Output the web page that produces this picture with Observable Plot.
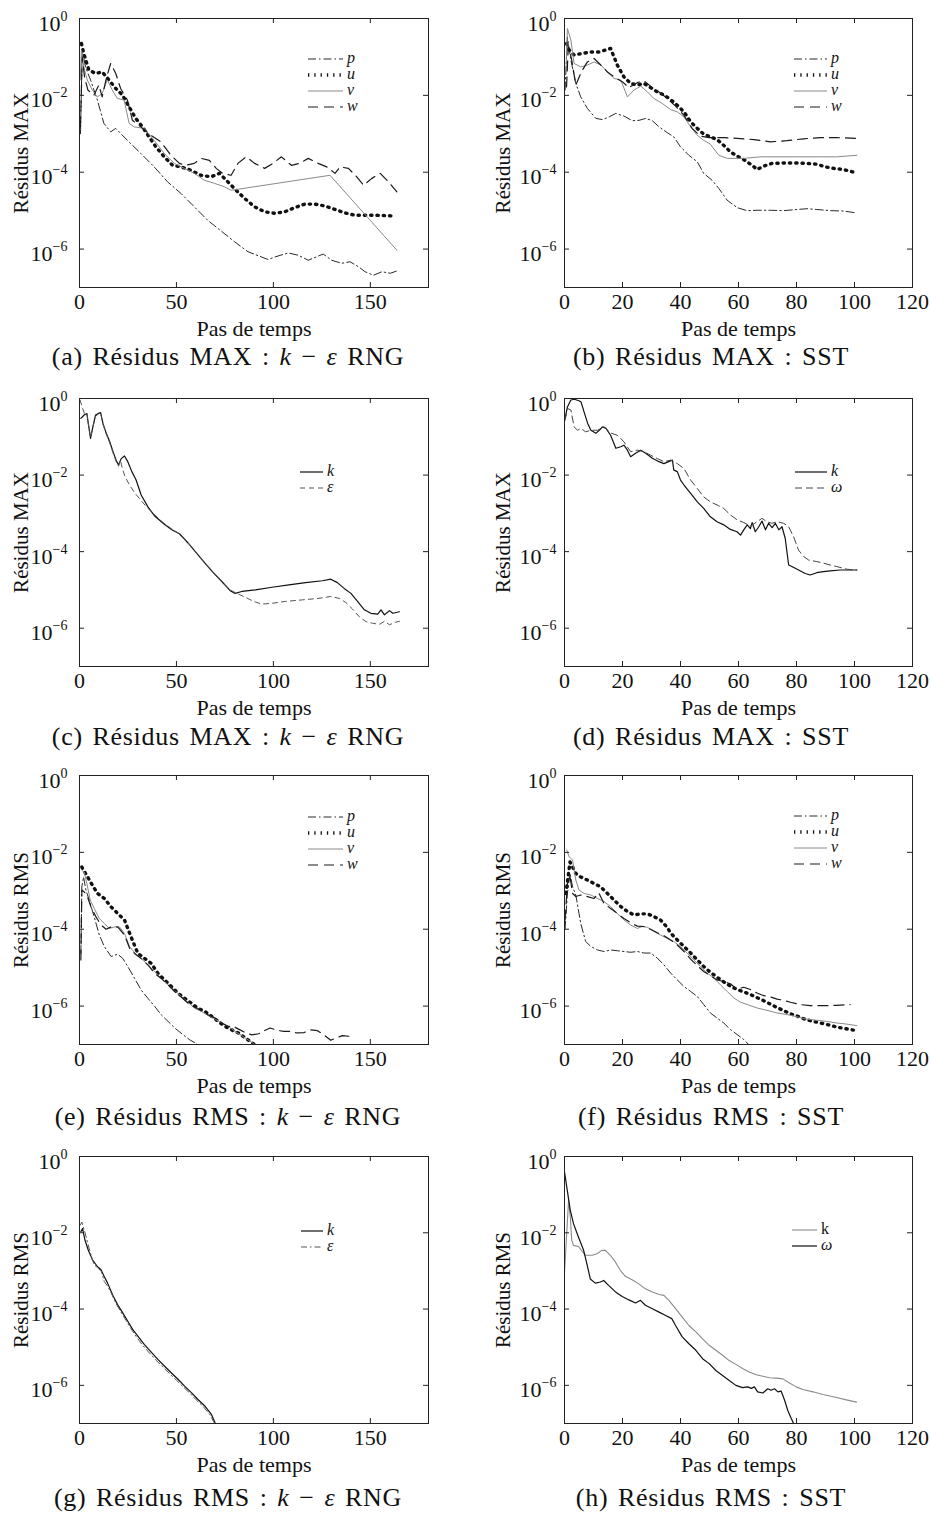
<!DOCTYPE html>
<html>
<head>
<meta charset="utf-8">
<script src="https://cdn.jsdelivr.net/npm/d3@7"></script>
<script src="https://cdn.jsdelivr.net/npm/@observablehq/plot@0.6"></script>
<style>
  body { margin: 0; background: #fff; }
  #fig { position: relative; width: 931px; height: 1516px; font-family: "Liberation Serif", "DejaVu Serif", serif; color: #111; }
  .panel { position: absolute; }
  .cap { position: absolute; width: 440px; text-align: center; font-size: 26px; line-height: 26px; letter-spacing: 0.7px; word-spacing: 2.5px; white-space: nowrap; }
</style>
</head>
<body>
<div id="fig"></div>
<script>
// Residual histories: each point is [time step, log10(residual)].

// (a) MAX residuals, k-epsilon RNG
const maxRngP = [[0.5,-3.0],[1.4,-0.82],[3.1,-1.26],[5.7,-1.6],[9.2,-2.12],[12.6,-2.73],[16.1,-2.95],[18.7,-2.86],[21.2,-2.99],[24.7,-3.17],[31.6,-3.51],[38.5,-3.86],[45.4,-4.25],[52.3,-4.55],[59.2,-4.9],[66.1,-5.25],[71.3,-5.46],[80,-5.81],[86.9,-6.07],[97.2,-6.27],[102.4,-6.18],[107.6,-6.1],[112.8,-6.16],[118,-6.29],[122.3,-6.2],[125.7,-6.13],[130,-6.29],[135.2,-6.37],[139.5,-6.33],[143.9,-6.46],[147.3,-6.59],[151.6,-6.68],[156,-6.59],[160.3,-6.63],[163.7,-6.57]];
const maxRngU = [[1,-0.65],[2.2,-0.91],[4.8,-1.34],[8.3,-1.43],[11.7,-1.39],[15.2,-1.6],[18.7,-1.82],[22.1,-1.99],[25.6,-2.3],[29,-2.6],[32.5,-2.82],[35.9,-3.08],[39.4,-3.34],[43.7,-3.6],[48,-3.82],[52.3,-3.86],[57.5,-3.95],[62.7,-4.08],[67.9,-4.12],[72.2,-4.03],[76.5,-4.25],[80.8,-4.47],[85.1,-4.68],[90.3,-4.9],[95.5,-5.03],[100.7,-5.07],[105.9,-5.03],[111.1,-4.92],[116.2,-4.83],[121.4,-4.83],[126.6,-4.88],[131.8,-4.97],[137,-5.06],[142.1,-5.12],[147.3,-5.12],[152.5,-5.12],[157.7,-5.13],[162.5,-5.14]];
const maxRngV = [[0.4,-1.6],[1,-0.82],[2.2,-1.26],[4,-1.6],[6.6,-1.86],[9.2,-2.04],[11.7,-1.95],[14.3,-1.6],[16.9,-1.86],[19.5,-2.08],[23,-2.12],[25.6,-2.73],[28.2,-2.82],[33.3,-2.86],[38.5,-3.17],[43.7,-3.51],[48.9,-3.77],[54.1,-3.9],[59.2,-4.03],[64.4,-4.21],[69.6,-4.29],[74.8,-4.38],[78.2,-4.47],[129.2,-4.08],[163.7,-6.03]];
const maxRngW = [[0.5,-2.82],[1.4,-1.0],[2.6,-1.52],[4.3,-1.86],[7.4,-2.0],[10,-1.73],[11.7,-2.04],[14,-1.52],[16.1,-1.17],[18.7,-1.43],[21.2,-1.82],[24.7,-2.12],[27.3,-2.65],[31.6,-2.82],[36.8,-3.04],[42,-3.21],[47.2,-3.56],[51.5,-3.77],[54.9,-3.82],[59.2,-3.77],[62.7,-3.64],[67,-3.69],[70.5,-3.9],[73.9,-4.03],[78.2,-4.08],[81.7,-3.77],[86,-3.6],[90.3,-3.77],[95.5,-3.9],[99.8,-3.77],[104.1,-3.6],[109.3,-3.82],[113.6,-3.77],[118,-3.64],[123.1,-3.77],[127.5,-3.86],[131.8,-4.03],[134.4,-3.86],[138.7,-3.9],[143,-4.12],[146.5,-4.34],[150.8,-4.16],[155.1,-4.03],[159.4,-4.25],[163.7,-4.51]];

// (b) MAX residuals, SST
const maxSstP = [[0.2,-1.86],[1,-0.48],[2.2,-1.08],[3.9,-1.69],[5.6,-2.04],[7.9,-2.34],[10.8,-2.6],[13.1,-2.63],[15.4,-2.56],[17.7,-2.47],[20.5,-2.54],[23.4,-2.66],[25.7,-2.65],[28,-2.6],[30.3,-2.66],[32.6,-2.82],[35.4,-2.97],[37.7,-3.08],[40,-3.34],[42.9,-3.56],[45.8,-3.73],[48,-4.03],[50.9,-4.21],[53.2,-4.42],[56.1,-4.73],[59.5,-4.92],[62.9,-5.0],[66.4,-4.99],[71,-4.99],[75.6,-5.0],[80.2,-4.97],[83.6,-4.95],[87,-4.97],[91.6,-5.0],[96.2,-5.01],[100.8,-5.06]];
const maxSstU = [[0.7,-0.65],[1.6,-0.82],[3.3,-0.95],[6.2,-0.91],[9.1,-0.87],[11.9,-0.87],[15.9,-0.78],[18.2,-1.21],[20.5,-1.52],[22.8,-1.69],[25.1,-1.73],[27.4,-1.69],[29.7,-1.8],[32,-1.91],[34.3,-1.99],[36.6,-2.11],[38.9,-2.26],[41.2,-2.43],[43.5,-2.69],[45.8,-2.86],[48,-3.01],[50.3,-3.08],[52.6,-3.15],[54.9,-3.3],[57.2,-3.47],[59.5,-3.58],[61.8,-3.67],[64.7,-3.82],[66.4,-3.93],[68.7,-3.84],[71.6,-3.77],[75.6,-3.76],[79.6,-3.76],[83.6,-3.77],[87,-3.79],[89.9,-3.86],[92.8,-3.9],[96.2,-3.93],[100.8,-4.02]];
const maxSstV = [[0.5,-1.43],[1,-0.26],[2.2,-0.56],[3.3,-1.17],[5.6,-1.26],[7.9,-1.21],[10.2,-1.13],[12.5,-1.21],[14.8,-1.39],[17.1,-1.56],[19.4,-1.6],[21.7,-2.04],[24,-1.86],[26.3,-1.76],[28.6,-1.91],[30.8,-2.08],[33.7,-2.21],[36.6,-2.37],[38.9,-2.43],[41.2,-2.56],[43.5,-2.82],[45.8,-3.04],[48,-3.17],[50.3,-3.27],[53.2,-3.56],[56.1,-3.64],[61.8,-3.64],[67.5,-3.6],[73.3,-3.6],[80.2,-3.6],[87,-3.6],[93.9,-3.6],[100.8,-3.56]];
const maxSstW = [[0.7,-1.78],[1.3,-0.74],[2.4,-1.04],[3.9,-1.73],[5.8,-1.39],[7.9,-1.13],[10.2,-1.04],[12.5,-1.21],[14.8,-1.39],[17.1,-1.52],[20,-1.65],[22.2,-1.8],[25.1,-1.67],[27.4,-1.62],[30.3,-1.8],[32.6,-1.91],[35.4,-2.08],[38.3,-2.28],[41.2,-2.52],[44,-2.86],[46.9,-3.06],[49.8,-3.1],[54.9,-3.1],[59.5,-3.12],[65.3,-3.15],[71,-3.21],[76.7,-3.18],[82.5,-3.13],[88.2,-3.1],[93.9,-3.1],[100.8,-3.12]];

// (c) MAX residuals of turbulence quantities, k-epsilon RNG
const maxRngK = [[0.7,-0.52],[2.4,-0.43],[3.8,-0.39],[4.8,-0.74],[5.7,-1.04],[6.9,-0.74],[8.3,-0.43],[9.7,-0.39],[10.9,-0.37],[12.1,-0.65],[13.8,-0.91],[15.6,-1.13],[17.3,-1.39],[18.9,-1.61],[20.1,-1.74],[21.5,-1.57],[23.2,-1.5],[24.9,-1.65],[27,-1.91],[29.2,-2.13],[31.8,-2.52],[35.3,-2.83],[38.8,-3.07],[43.1,-3.26],[47.4,-3.42],[51.7,-3.54],[56.1,-3.78],[60.4,-4.04],[64.7,-4.3],[69,-4.55],[73.4,-4.78],[77.7,-5.02],[80.3,-5.09],[83.7,-5.04],[90.7,-5.0],[99.3,-4.93],[108,-4.87],[116.6,-4.81],[125.3,-4.76],[129.6,-4.72],[133,-4.81],[136.5,-4.96],[140,-5.09],[143.4,-5.3],[146.9,-5.52],[150.3,-5.61],[153.8,-5.63],[155.5,-5.52],[157.3,-5.65],[159.9,-5.54],[161.6,-5.61],[165,-5.57]];
const maxRngEps = [[0.3,-0.04],[1.6,-0.26],[2.8,-0.43],[3.8,-0.39],[4.8,-0.74],[5.7,-1.02],[6.9,-0.74],[8.3,-0.46],[9.7,-0.41],[10.9,-0.39],[12.1,-0.67],[13.8,-0.93],[15.6,-1.16],[17.3,-1.42],[18.9,-1.65],[20.1,-1.77],[21.1,-1.61],[22.1,-1.83],[23.5,-2.04],[25.8,-2.26],[28.4,-2.46],[31.8,-2.67],[35.3,-2.87],[38.8,-3.04],[43.1,-3.24],[47.4,-3.4],[51.7,-3.54],[56.1,-3.78],[60.4,-4.04],[64.7,-4.3],[69,-4.55],[73.4,-4.78],[77.7,-5.0],[81.1,-5.09],[85.5,-5.19],[89.8,-5.3],[94.1,-5.37],[99.3,-5.35],[106.2,-5.3],[114.9,-5.26],[123.5,-5.22],[129.6,-5.17],[133.9,-5.22],[137.4,-5.33],[140.8,-5.5],[144.3,-5.7],[147.8,-5.83],[151.2,-5.87],[154.7,-5.9],[157.3,-5.82],[159.9,-5.91],[162.5,-5.85],[165,-5.82]];

// (d) MAX residuals of turbulence quantities, SST
const maxSstK = [[0.2,-0.52],[1,-0.22],[2.2,-0.04],[3.4,-0.02],[5,-0.06],[5.7,-0.09],[6.9,-0.39],[8,-0.65],[9.1,-0.83],[10.8,-0.91],[12,-0.83],[13.1,-0.74],[14.3,-0.78],[15.9,-0.96],[17.7,-1.3],[19.4,-1.26],[20.5,-1.22],[21.7,-1.35],[22.8,-1.52],[24.5,-1.43],[26.3,-1.35],[28,-1.43],[30.3,-1.56],[32.6,-1.65],[34.3,-1.7],[35.9,-1.65],[37.2,-1.61],[37.7,-1.87],[38.9,-1.91],[40,-2.13],[41.2,-2.26],[43.5,-2.48],[45.8,-2.7],[48,-2.87],[50.3,-3.09],[52.6,-3.22],[54.9,-3.3],[57.2,-3.42],[59.5,-3.48],[60.7,-3.57],[61.8,-3.43],[63,-3.3],[64.1,-3.4],[64.7,-3.24],[65.8,-3.48],[67,-3.35],[68.1,-3.2],[69.3,-3.43],[70.4,-3.26],[71.6,-3.37],[72.7,-3.26],[73.9,-3.43],[75,-3.35],[76.1,-3.65],[77.3,-4.35],[78.4,-4.39],[80.7,-4.48],[83,-4.57],[84.7,-4.61],[87,-4.55],[89.3,-4.52],[91.6,-4.5],[95.1,-4.48],[98.5,-4.48],[100.8,-4.48]];
const maxSstOmega = [[0.2,-0.57],[1,-0.26],[2.2,-0.3],[3.3,-0.74],[4.5,-0.83],[5.6,-0.78],[7.3,-0.87],[9.1,-0.83],[11.4,-0.83],[13.6,-0.74],[15.9,-0.9],[18.2,-0.96],[20.5,-1.13],[22.8,-1.39],[25.1,-1.35],[27.4,-1.39],[29.7,-1.48],[32,-1.57],[34.3,-1.65],[36.6,-1.61],[38.9,-1.7],[41.2,-1.83],[43.5,-2.13],[45.8,-2.35],[48,-2.57],[50.3,-2.7],[52.6,-2.78],[54.9,-2.87],[57.2,-3.04],[59.5,-3.17],[61.8,-3.24],[64.1,-3.33],[66.4,-3.22],[68.1,-3.13],[69.8,-3.22],[71.6,-3.26],[73.3,-3.22],[75.6,-3.26],[77.3,-3.35],[79,-3.61],[80.7,-3.96],[82.5,-4.13],[84.2,-4.22],[87,-4.26],[89.3,-4.3],[91.6,-4.35],[93.9,-4.39],[97.4,-4.46],[100.8,-4.48]];

// (e) RMS residuals, k-epsilon RNG
const rmsRngP = [[0.7,-4.63],[1.2,-2.9],[2.1,-2.64],[3.3,-2.98],[5,-3.24],[7.6,-3.68],[10.2,-4.15],[12.8,-4.45],[16.3,-4.71],[19.7,-4.65],[22.3,-4.76],[24.9,-4.97],[28.4,-5.28],[31.8,-5.58],[35.3,-5.8],[38.8,-6.01],[42.2,-6.23],[45.7,-6.4],[49.1,-6.57],[53.5,-6.75],[56.9,-6.88],[60.4,-6.98],[62,-7.05]];
const rmsRngU = [[1.2,-2.38],[1.6,-2.42],[4.2,-2.64],[6.7,-2.86],[9.3,-3.07],[12.8,-3.2],[16.3,-3.42],[19.7,-3.59],[23.2,-3.76],[26.6,-4.2],[30.1,-4.63],[33.6,-4.76],[37,-4.89],[40.5,-5.15],[43.9,-5.32],[47.4,-5.49],[50.9,-5.67],[54.3,-5.8],[57.8,-5.93],[61.2,-6.06],[64.7,-6.14],[68.2,-6.27],[71.6,-6.4],[75.1,-6.53],[78.5,-6.62],[82,-6.7],[85.5,-6.83],[88.9,-6.95],[90.7,-7.02]];
const rmsRngV = [[1.2,-2.47],[2.4,-2.51],[3.8,-2.81],[5.5,-3.24],[7.6,-3.46],[10.2,-3.72],[12.8,-3.85],[15.4,-3.98],[18,-3.94],[20.6,-3.94],[23.2,-4.11],[25.8,-4.45],[28.4,-4.61],[31.8,-4.76],[35.3,-4.93],[38.8,-5.1],[42.2,-5.28],[45.7,-5.45],[49.1,-5.6],[52.6,-5.75],[56.1,-5.91],[59.5,-6.06],[63,-6.14],[66.4,-6.25],[69.9,-6.34],[73.4,-6.44],[76.8,-6.53],[80.3,-6.66],[83.7,-6.77],[87.2,-6.89],[89.8,-6.98],[91,-7.03]];
const rmsRngW = [[0.7,-4.8],[1.2,-2.98],[2.4,-3.03],[3.8,-3.11],[5.9,-3.42],[8.5,-3.68],[11.1,-3.89],[13.7,-4.0],[16.3,-3.94],[19.7,-3.94],[23.2,-4.15],[25.8,-4.49],[28.4,-4.63],[31.8,-4.76],[35.3,-4.93],[38.8,-5.15],[42.2,-5.28],[45.7,-5.45],[49.1,-5.62],[52.6,-5.77],[56.1,-5.93],[59.5,-6.03],[63,-6.12],[66.4,-6.23],[69.9,-6.31],[73.4,-6.44],[76.8,-6.53],[79.4,-6.53],[82,-6.6],[85.5,-6.69],[88.9,-6.75],[92.4,-6.72],[95.8,-6.63],[98.3,-6.57],[101.9,-6.63],[105.4,-6.66],[108.8,-6.66],[112.3,-6.7],[115.7,-6.69],[119.2,-6.62],[122.7,-6.64],[126.1,-6.75],[129.6,-6.89],[132.2,-6.83],[135.6,-6.77],[140,-6.79]];

// (f) RMS residuals, SST
const rmsSstP = [[0.2,-4.0],[1,-3.07],[1.9,-2.55],[2.8,-2.9],[3.9,-3.11],[5,-3.59],[5.6,-3.85],[7.3,-4.32],[9.1,-4.45],[11.4,-4.54],[13.6,-4.58],[15.9,-4.54],[18.2,-4.56],[20.5,-4.58],[22.8,-4.6],[25.1,-4.58],[27.4,-4.62],[29.7,-4.62],[32,-4.75],[34.3,-4.93],[36.6,-5.14],[38.9,-5.32],[41.2,-5.49],[43.5,-5.62],[45.8,-5.75],[48,-5.96],[50.3,-6.18],[52.6,-6.31],[54.9,-6.44],[57.2,-6.61],[59.5,-6.74],[61.8,-6.87],[63.5,-7.0],[64.5,-7.08]];
const rmsSstU = [[0.5,-3.07],[1.9,-2.25],[2.8,-2.38],[3.9,-2.55],[5.6,-2.64],[7.9,-2.72],[10.2,-2.81],[12.5,-2.9],[14.8,-3.07],[17.1,-3.24],[19.4,-3.41],[21.7,-3.54],[24,-3.63],[26.3,-3.6],[28.6,-3.6],[30.8,-3.67],[33.1,-3.76],[35.4,-3.95],[36.6,-4.1],[38.9,-4.28],[41.2,-4.45],[43.5,-4.62],[45.8,-4.8],[48,-4.97],[50.3,-5.12],[52.6,-5.25],[54.9,-5.37],[57.2,-5.48],[59.5,-5.57],[61.8,-5.63],[64.1,-5.7],[66.4,-5.78],[68.7,-5.86],[71,-5.95],[73.3,-6.04],[75.6,-6.12],[77.9,-6.2],[80.2,-6.26],[82.5,-6.33],[84.8,-6.38],[87.1,-6.42],[89.4,-6.46],[91.7,-6.5],[94,-6.55],[96.3,-6.58],[98.6,-6.61],[100.8,-6.64]];
const rmsSstV = [[0.8,-1.94],[1.6,-2.12],[2.8,-2.2],[3.9,-2.72],[5,-2.98],[6.8,-3.07],[9.1,-3.11],[11.4,-3.2],[13.6,-3.28],[15.9,-3.41],[18.2,-3.59],[20.5,-3.76],[22.8,-3.89],[25.1,-3.98],[26.8,-3.93],[28.6,-3.95],[30.8,-4.06],[33.1,-4.15],[35.4,-4.24],[37.7,-4.32],[40,-4.45],[42.3,-4.62],[44.6,-4.8],[46.9,-4.97],[49.2,-5.14],[51.5,-5.27],[53.8,-5.45],[56.1,-5.62],[58.4,-5.79],[60.7,-5.9],[63,-5.96],[66.4,-6.05],[69.8,-6.11],[73.3,-6.18],[76.7,-6.22],[80.2,-6.28],[83.6,-6.34],[87,-6.37],[90.5,-6.4],[93.9,-6.44],[97.4,-6.47],[100.8,-6.51]];
const rmsSstW = [[0.2,-3.76],[1,-2.81],[1.8,-2.59],[2.8,-3.07],[3.9,-3.15],[5.6,-3.11],[7.9,-3.15],[10.2,-3.2],[11.8,-3.05],[13.6,-3.33],[15.9,-3.46],[18.2,-3.59],[20.5,-3.72],[22.8,-3.83],[25.1,-3.92],[27.4,-3.93],[29.7,-4.0],[32,-4.09],[34.3,-4.17],[36.6,-4.28],[38.9,-4.41],[41.2,-4.58],[43.5,-4.78],[45.8,-4.95],[48,-5.1],[50.3,-5.21],[52.6,-5.32],[54.9,-5.36],[57.2,-5.42],[59.5,-5.56],[61.8,-5.51],[64.1,-5.57],[66.4,-5.66],[68.7,-5.73],[71,-5.76],[73.3,-5.82],[75.6,-5.85],[77.9,-5.9],[81.3,-5.96],[84.7,-5.99],[89.3,-5.99],[93.9,-5.98],[98.5,-5.96]];

// (g) RMS residuals of turbulence quantities, k-epsilon RNG
const rmsRngK = [[0.7,-1.97],[1.6,-1.89],[2.8,-2.19],[4.5,-2.45],[6.7,-2.71],[9.3,-2.89],[11.1,-2.97],[12.8,-3.15],[14.5,-3.32],[17.1,-3.63],[19.7,-3.89],[22.3,-4.1],[24.9,-4.32],[27.5,-4.54],[30.1,-4.71],[33.5,-4.93],[37,-5.13],[40.4,-5.32],[43.9,-5.5],[47.3,-5.67],[50.8,-5.84],[54.2,-6.02],[57.7,-6.19],[61.1,-6.37],[64.6,-6.54],[68,-6.76],[69.8,-6.97],[70.5,-7.05]];
const rmsRngEps = [[0.3,-1.8],[1.2,-1.72],[2.6,-1.95],[4.3,-2.28],[6,-2.6],[7.6,-2.84],[9.5,-2.93],[11.2,-3.0],[12.8,-3.28],[14.5,-3.4],[16.2,-3.56],[18.8,-3.85],[21.4,-4.08],[24,-4.3],[26.6,-4.52],[29.2,-4.72],[32.6,-4.95],[36,-5.15],[39.5,-5.34],[43,-5.52],[46.4,-5.69],[49.9,-5.86],[53.3,-6.03],[56.8,-6.2],[60.2,-6.38],[63.7,-6.55],[67.1,-6.76],[69.5,-6.98],[70.2,-7.05]];

// (h) RMS residuals of turbulence quantities, SST
const rmsSstK = [[0,-3.05],[1.4,-1.15],[2,-1.59],[2.5,-2.2],[3.1,-2.33],[4.8,-2.36],[7.2,-2.59],[9.5,-2.59],[11.2,-2.55],[12.9,-2.46],[14.1,-2.46],[15.8,-2.59],[17.6,-2.77],[19.3,-2.99],[21,-3.14],[23.3,-3.23],[25.6,-3.34],[27.9,-3.47],[30.3,-3.55],[32.6,-3.62],[34.3,-3.64],[36,-3.77],[38.3,-3.99],[40.6,-4.21],[42.9,-4.43],[45.3,-4.6],[47.6,-4.78],[49.9,-4.95],[52.2,-5.08],[54.5,-5.21],[56.8,-5.35],[59.1,-5.45],[61.4,-5.56],[63.7,-5.65],[66.1,-5.72],[68.4,-5.76],[70.7,-5.8],[73,-5.81],[75.3,-5.83],[77.6,-5.94],[79.9,-6.04],[82.2,-6.11],[85.7,-6.17],[89.1,-6.24],[93.8,-6.32],[97.2,-6.38],[100.7,-6.44]];
const rmsSstOmega = [[0,-0.4],[1.4,-1.11],[2,-1.41],[3.1,-1.76],[4.8,-2.11],[6.6,-2.46],[7.7,-2.81],[8.9,-3.21],[10.6,-3.32],[12.4,-3.29],[13.5,-3.25],[15.2,-3.38],[17.6,-3.55],[19.9,-3.67],[22.2,-3.76],[24.5,-3.84],[26.2,-3.77],[27.9,-3.9],[30.3,-3.99],[32.6,-4.08],[34.9,-4.17],[37,-4.25],[38.3,-4.43],[40.6,-4.73],[42.9,-4.91],[45.3,-5.08],[47.6,-5.3],[49.9,-5.43],[52.2,-5.61],[54.5,-5.74],[56.8,-5.87],[59.1,-6.0],[61.4,-6.06],[63.2,-6.04],[64.4,-6.08],[65.5,-6.04],[66.6,-6.17],[68.4,-6.2],[70.1,-6.09],[71.2,-6.13],[72.4,-6.09],[73.6,-6.17],[74.7,-6.15],[75.9,-6.39],[77,-6.66],[78.2,-6.87],[79,-7.0],[79.5,-7.08]];

// Axis ticks and texts
const ticksRng = [0, 50, 100, 150];
const ticksSst = [0, 20, 40, 60, 80, 100, 120];
const decades = [0, -2, -4, -6];
const xLabel = "Pas de temps";
const yLabels = ["Résidus MAX", "Résidus MAX", "Résidus MAX", "Résidus MAX", "Résidus RMS", "Résidus RMS", "Résidus RMS", "Résidus RMS"];
const captions = [
  "(a) Résidus MAX : k − ε RNG", "(b) Résidus MAX : SST",
  "(c) Résidus MAX : k − ε RNG", "(d) Résidus MAX : SST",
  "(e) Résidus RMS : k − ε RNG", "(f) Résidus RMS : SST",
  "(g) Résidus RMS : k − ε RNG", "(h) Résidus RMS : SST"
];

// Line styles
const lineStyles = {
  p:          { stroke: "#2a2a2a", strokeWidth: 1,   strokeDasharray: "8,3,1.5,3" },
  u:          { stroke: "#111",    strokeWidth: 3.4, strokeDasharray: "1.3,5" },
  v:          { stroke: "#8a8a8a", strokeWidth: 1 },
  w:          { stroke: "#1a1a1a", strokeWidth: 1.2, strokeDasharray: "10,6" },
  kSolid:     { stroke: "#111",    strokeWidth: 1.2 },
  epsDash:    { stroke: "#555",    strokeWidth: 1,   strokeDasharray: "5,4" },
  omegaDash:  { stroke: "#444",    strokeWidth: 1,   strokeDasharray: "7,4" },
  epsDashDot: { stroke: "#555",    strokeWidth: 1,   strokeDasharray: "6,3,1.5,3" },
  kGray:      { stroke: "#8a8a8a", strokeWidth: 1.1 },
  omegaSolid: { stroke: "#111",    strokeWidth: 1.2 }
};

const panels = [
  { col: 0, row: 0, xmax: 180, ticks: ticksRng, series: [["p", maxRngP, "p"], ["u", maxRngU, "u"], ["v", maxRngV, "v"], ["w", maxRngW, "w"]], legend: { x0: 229, x1: 264, rows: [41, 57, 73, 89] } },
  { col: 1, row: 0, xmax: 120, ticks: ticksSst, series: [["p", maxSstP, "p"], ["u", maxSstU, "u"], ["v", maxSstV, "v"], ["w", maxSstW, "w"]], legend: { x0: 230, x1: 263, rows: [41, 57, 73, 89] } },
  { col: 0, row: 1, xmax: 180, ticks: ticksRng, series: [["k", maxRngK, "kSolid"], ["ε", maxRngEps, "epsDash"]], legend: { x0: 221, x1: 244, rows: [74, 90] } },
  { col: 1, row: 1, xmax: 120, ticks: ticksSst, series: [["k", maxSstK, "kSolid"], ["ω", maxSstOmega, "omegaDash"]], legend: { x0: 231, x1: 263, rows: [74, 90] } },
  { col: 0, row: 2, xmax: 180, ticks: ticksRng, series: [["p", rmsRngP, "p"], ["u", rmsRngU, "u"], ["v", rmsRngV, "v"], ["w", rmsRngW, "w"]], legend: { x0: 229, x1: 264, rows: [42, 58, 74, 90] } },
  { col: 1, row: 2, xmax: 120, ticks: ticksSst, series: [["p", rmsSstP, "p"], ["u", rmsSstU, "u"], ["v", rmsSstV, "v"], ["w", rmsSstW, "w"]], legend: { x0: 230, x1: 263, rows: [41, 57, 73, 89] } },
  { col: 0, row: 3, xmax: 180, ticks: ticksRng, series: [["k", rmsRngK, "kSolid"], ["ε", rmsRngEps, "epsDashDot"]], legend: { x0: 222, x1: 244, rows: [75, 91] } },
  { col: 1, row: 3, xmax: 120, ticks: ticksSst, series: [["k", rmsSstK, "kGray"], ["ω", rmsSstOmega, "omegaSolid"]], legend: { x0: 228, x1: 253, rows: [74, 90], uprightK: true } }
];

const frameTops = [18, 398, 775, 1156];
const frameHeights = [269, 268, 269, 267];
const captionCenters = [357, 737, 1117, 1498];
const fig = document.getElementById("fig");

panels.forEach((cfg, i) => {
  const left = cfg.col === 0;
  const fw = left ? 349 : 348;
  const fh = frameHeights[cfg.row];
  const ml = left ? 79 : 94;
  const width = left ? 460 : 461;
  const mt = 18, mb = 62;
  const height = mt + fh + mb;
  const ink = "#222";

  const marks = [
    ...cfg.series.map(([, data, st]) =>
      Plot.line(data, { x: d => d[0], y: d => 10 ** d[1], clip: true, ...lineStyles[st] })),
    Plot.frame({ stroke: ink, strokeWidth: 1 }),
    Plot.tickX(cfg.ticks, { x: d => d, insetTop: fh - 5, stroke: ink }),
    Plot.tickX(cfg.ticks, { x: d => d, insetBottom: fh - 5, stroke: ink }),
    Plot.tickY(decades, { y: d => 10 ** d, insetRight: fw - 5, stroke: ink }),
    Plot.tickY(decades, { y: d => 10 ** d, insetLeft: fw - 5, stroke: ink }),
    Plot.axisX(cfg.ticks, { tickSize: 0, tickPadding: 6, label: null }),
    Plot.axisY(decades.map(e => 10 ** e), {
      tickSize: 0, tickPadding: left ? 12 : 8, label: null,
      tickFormat: d => "10^" + String(Math.round(Math.log10(d))).replace("-", "−")
    }),
    Plot.text([xLabel], { frameAnchor: "bottom", lineAnchor: "middle", dy: 41, text: d => d }),
    Plot.text([yLabels[i]], { frameAnchor: "left", textAnchor: "middle", dx: left ? -58 : -61, rotate: -90, fontSize: 21, text: d => d })
  ];

  const svg = Plot.plot({
    width, height,
    marginLeft: ml, marginRight: width - ml - fw, marginTop: mt, marginBottom: mb,
    x: { type: "linear", domain: [0, cfg.xmax] },
    y: { type: "log", domain: [1e-7, 1] },
    style: { fontFamily: "'Liberation Serif', 'DejaVu Serif', serif", fontSize: "22px", color: "#111", background: "transparent", overflow: "visible" },
    marks
  });

  // Power-of-ten labels with a raised exponent
  d3.select(svg).selectAll('g[aria-label="y-axis tick label"] text').each(function () {
    const [base, exp] = this.textContent.split("^");
    this.textContent = "";
    const t = d3.select(this);
    t.append("tspan").attr("dy", "5").text(base);
    t.append("tspan").attr("dy", "-10").attr("font-size", "14px").text(exp);
  });

  // Legend in the upper right part of the frame
  const lg = d3.select(svg).append("g").attr("transform", `translate(${ml},${mt})`);
  cfg.series.forEach(([name, , st], j) => {
    const s = lineStyles[st];
    const y = cfg.legend.rows[j];
    lg.append("line")
      .attr("x1", cfg.legend.x0).attr("x2", cfg.legend.x1).attr("y1", y).attr("y2", y)
      .attr("stroke", s.stroke).attr("stroke-width", s.strokeWidth)
      .attr("stroke-dasharray", s.strokeDasharray || null);
    lg.append("text")
      .attr("x", cfg.legend.x1 + 4).attr("y", y + 4)
      .attr("text-anchor", "start")
      .attr("font-size", "16px")
      .attr("font-style", (cfg.legend.uprightK && name === "k") ? "normal" : "italic")
      .attr("fill", "#111")
      .text(name);
  });

  const div = document.createElement("div");
  div.className = "panel";
  div.style.left = (left ? 0 : 470) + "px";
  div.style.top = (frameTops[cfg.row] - mt) + "px";
  div.style.width = width + "px";
  div.appendChild(svg);
  fig.appendChild(div);

  const cap = document.createElement("div");
  cap.className = "cap";
  cap.style.left = (left ? 228 - 220 : 711 - 220) + "px";
  cap.style.top = (captionCenters[cfg.row] - 13) + "px";
  cap.innerHTML = captions[i].replace("k − ε", "<i>k</i> − <i>ε</i>");
  fig.appendChild(cap);
});
</script>
</body>
</html>
